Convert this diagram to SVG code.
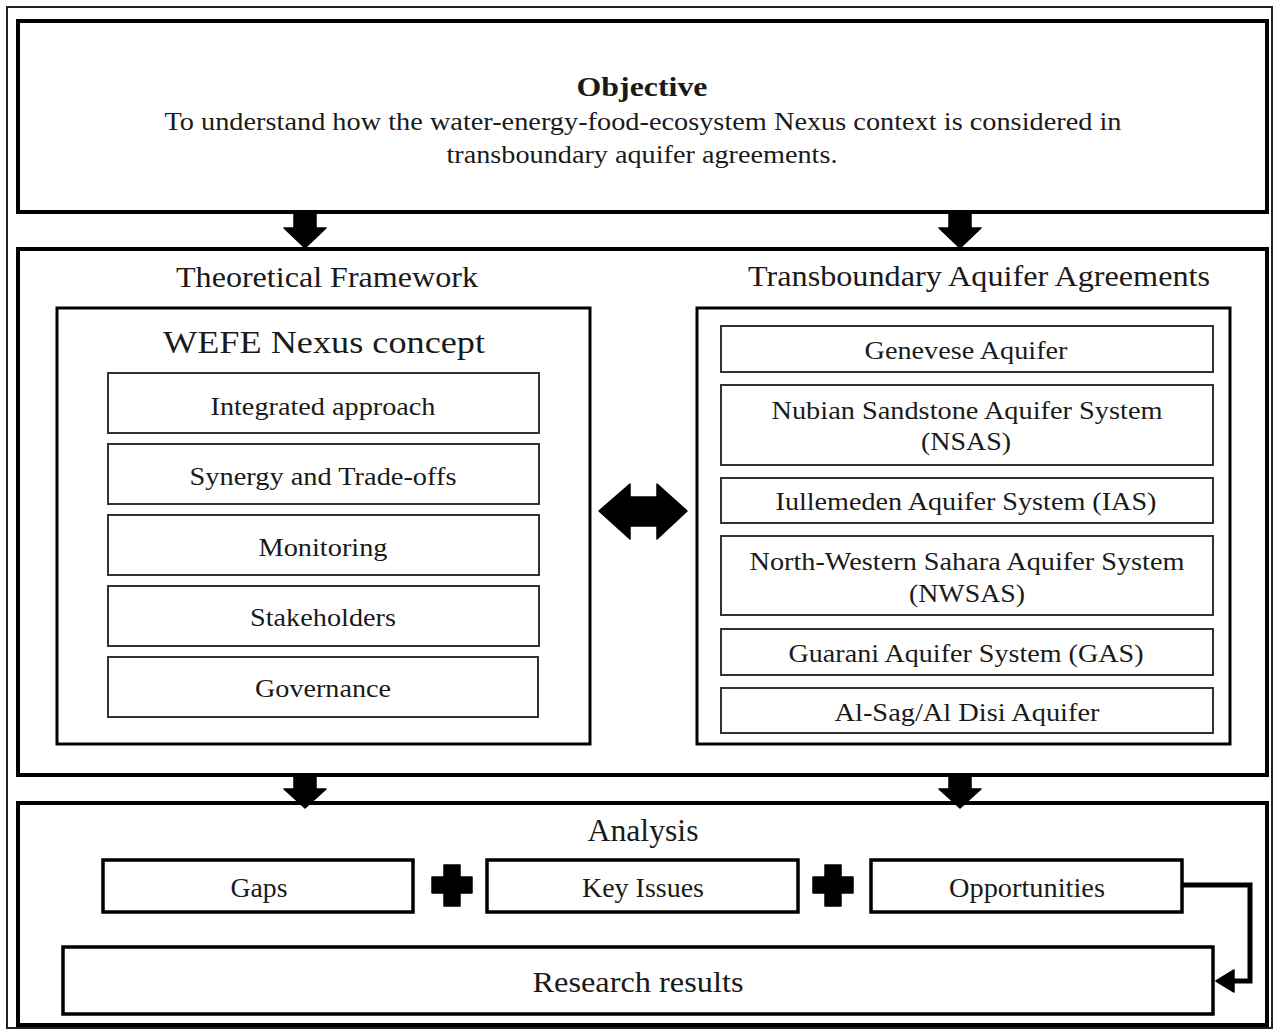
<svg xmlns="http://www.w3.org/2000/svg" width="1275" height="1033" viewBox="0 0 1275 1033">
<style>
text{font-family:"Liberation Serif","Times New Roman",serif;fill:#1a1a1a;text-anchor:middle}
.big{fill:#fff;stroke:#000;stroke-width:4}
.inner{fill:#fff;stroke:#000;stroke-width:3}
.sub{fill:#fff;stroke:#333;stroke-width:2}
.ana{fill:#fff;stroke:#000;stroke-width:3.5}
.t26{font-size:26px}
.t28{font-size:28px}
.t30{font-size:30px}
.blk{fill:#000;stroke:#000;stroke-width:1.5;stroke-linejoin:round}
</style>
<rect x="0" y="0" width="1275" height="1033" fill="#fff"/>
<rect x="7" y="7" width="1265" height="1021" fill="none" stroke="#222" stroke-width="2"/>

<g id="objective">
<rect class="big" x="18" y="21" width="1249" height="191"/>
<text x="642" y="96" font-size="28" font-weight="bold" textLength="131" lengthAdjust="spacingAndGlyphs">Objective</text>
<text class="t26" x="643" y="130" textLength="957" lengthAdjust="spacingAndGlyphs">To understand how the water-energy-food-ecosystem Nexus context is considered in</text>
<text class="t26" x="642" y="163" textLength="391" lengthAdjust="spacingAndGlyphs">transboundary aquifer agreements.</text>
</g>

<g id="framework-container">
<rect class="big" x="18" y="249" width="1249" height="526"/>
<text class="t30" x="327" y="287" textLength="302" lengthAdjust="spacingAndGlyphs">Theoretical Framework</text>
<text class="t30" x="979" y="286" textLength="462" lengthAdjust="spacingAndGlyphs">Transboundary Aquifer Agreements</text>
</g>

<g id="wefe">
<rect class="inner" x="57" y="308" width="533" height="436"/>
<text x="324" y="353" font-size="32" textLength="322" lengthAdjust="spacingAndGlyphs">WEFE Nexus concept</text>
</g>
<g id="integrated"><rect class="sub" x="108" y="373" width="431" height="60"/><text class="t26" x="323" y="415" textLength="225" lengthAdjust="spacingAndGlyphs">Integrated approach</text></g>
<g id="synergy"><rect class="sub" x="108" y="444" width="431" height="60"/><text class="t26" x="323" y="485" textLength="267" lengthAdjust="spacingAndGlyphs">Synergy and Trade-offs</text></g>
<g id="monitoring"><rect class="sub" x="108" y="515" width="431" height="60"/><text class="t26" x="323" y="556" textLength="129" lengthAdjust="spacingAndGlyphs">Monitoring</text></g>
<g id="stakeholders"><rect class="sub" x="108" y="586" width="431" height="60"/><text class="t26" x="323" y="626" textLength="146" lengthAdjust="spacingAndGlyphs">Stakeholders</text></g>
<g id="governance"><rect class="sub" x="108" y="657" width="430" height="60"/><text class="t26" x="323" y="697" textLength="136" lengthAdjust="spacingAndGlyphs">Governance</text></g>

<g id="taa">
<rect class="inner" x="697" y="308" width="533" height="436"/>
</g>
<g id="genevese"><rect class="sub" x="721" y="326" width="492" height="46"/><text class="t26" x="966" y="359" textLength="203" lengthAdjust="spacingAndGlyphs">Genevese Aquifer</text></g>
<g id="nsas"><rect class="sub" x="721" y="385" width="492" height="80"/><text class="t26" x="967" y="419" textLength="391" lengthAdjust="spacingAndGlyphs">Nubian Sandstone Aquifer System</text><text class="t26" x="966" y="450" textLength="90" lengthAdjust="spacingAndGlyphs">(NSAS)</text></g>
<g id="ias"><rect class="sub" x="721" y="478" width="492" height="45"/><text class="t26" x="966" y="510" textLength="381" lengthAdjust="spacingAndGlyphs">Iullemeden Aquifer System (IAS)</text></g>
<g id="nwsas"><rect class="sub" x="721" y="536" width="492" height="79"/><text class="t26" x="967" y="570" textLength="435" lengthAdjust="spacingAndGlyphs">North-Western Sahara Aquifer System</text><text class="t26" x="967" y="602" textLength="116" lengthAdjust="spacingAndGlyphs">(NWSAS)</text></g>
<g id="gas"><rect class="sub" x="721" y="629" width="492" height="46"/><text class="t26" x="966" y="662" textLength="355" lengthAdjust="spacingAndGlyphs">Guarani Aquifer System (GAS)</text></g>
<g id="alsag"><rect class="sub" x="721" y="688" width="492" height="45"/><text class="t26" x="967" y="721" textLength="265" lengthAdjust="spacingAndGlyphs">Al-Sag/Al Disi Aquifer</text></g>

<g id="analysis">
<rect class="big" x="18" y="803" width="1249" height="222"/>
<text x="643" y="841" font-size="31" textLength="111" lengthAdjust="spacingAndGlyphs">Analysis</text>
</g>
<g id="gaps"><rect class="ana" x="103" y="860" width="310" height="52"/><text class="t28" x="259" y="897" textLength="57" lengthAdjust="spacingAndGlyphs">Gaps</text></g>
<g id="keyissues"><rect class="ana" x="487" y="860" width="311" height="52"/><text class="t28" x="643" y="897" textLength="122" lengthAdjust="spacingAndGlyphs">Key Issues</text></g>
<g id="opportunities"><rect class="ana" x="871" y="860" width="311" height="52"/><text class="t28" x="1027" y="897" textLength="156" lengthAdjust="spacingAndGlyphs">Opportunities</text></g>
<g id="results"><rect class="ana" x="63" y="947" width="1150" height="67"/><text x="638" y="992" font-size="30" textLength="211" lengthAdjust="spacingAndGlyphs">Research results</text></g>

<g id="connectors">
<polygon class="blk" points="294,213 316,213 316,228 326,228 305,248 284,228 294,228"/>
<polygon class="blk" points="949,213 971,213 971,228 981,228 960,248 939,228 949,228"/>
<polygon class="blk" points="294,776 316,776 316,789 326,789 305,808 284,789 294,789"/>
<polygon class="blk" points="949,776 971,776 971,789 981,789 960,808 939,789 949,789"/>
<polygon class="blk" points="599,511 630,484 630,497 657,497 657,484 687,511 657,539 657,526 630,526 630,539"/>
<path class="blk" d="M444,865 h16 v12 h12 v16 h-12 v13 h-16 v-13 h-12 v-16 h12 z"/>
<path class="blk" d="M825,865 h16 v12 h12 v16 h-12 v13 h-16 v-13 h-12 v-16 h12 z"/>
<path d="M1182,885 H1250 V981 H1232" fill="none" stroke="#000" stroke-width="5"/>
<polygon class="blk" points="1216,981 1234,970 1234,992"/>
</g>
</svg>
